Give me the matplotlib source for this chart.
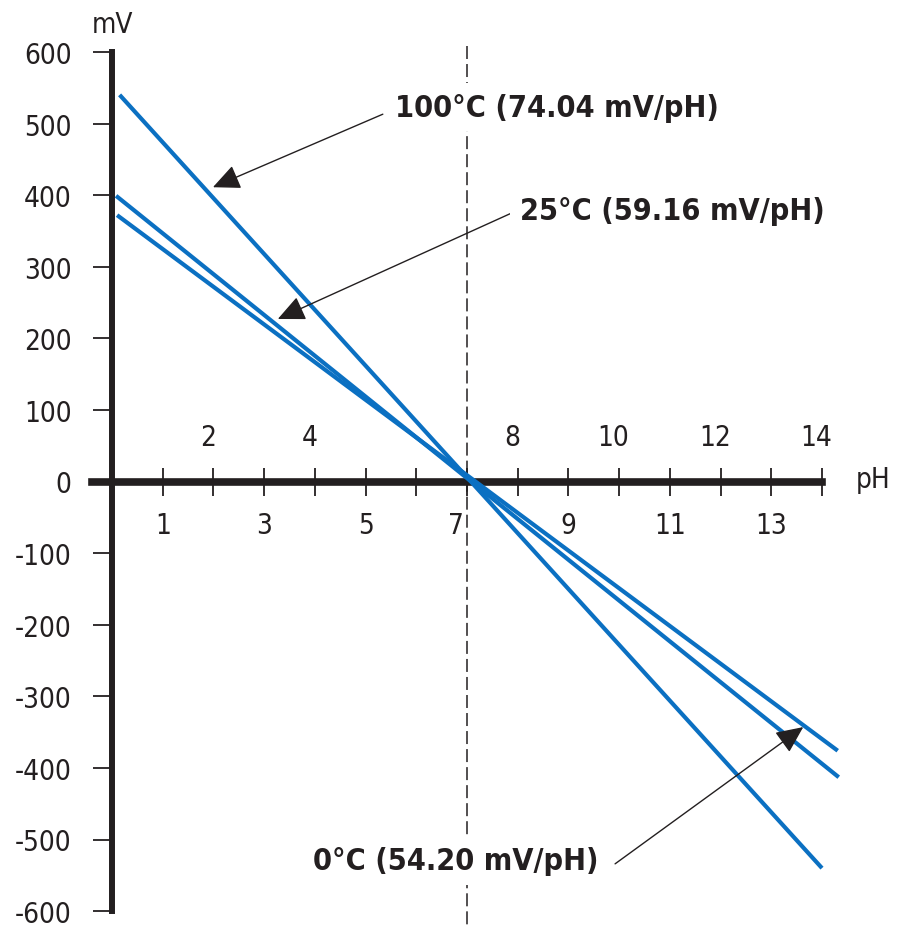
import numpy as np
import matplotlib
matplotlib.use('Agg')
import matplotlib.pyplot as plt

plt.rcParams['font.family'] = ['DejaVu Sans']
plt.rcParams['font.stretch'] = 'condensed'

# ---- data ----
temps = ['100°C (74.04 mV/pH)', '25°C (59.16 mV/pH)', '0°C (54.20 mV/pH)']
ph_start = [0.15, 0.08, 0.10]
ph_end = [14.00, 14.33, 14.31]
mv_start = [540, 399, 372]
mv_end = [-540, -413, -376]

# arrow tips (on the lines) and label anchors
arrow_tip_ph = [1.99, 3.27, 13.63]
arrow_tip_mv = [411, 227, -343]
arrow_from_ph = [5.34, 7.85, 9.92]
arrow_from_mv = [513, 374, -534]
label_ph = [5.58, 8.05, 3.96]
label_mv = [523, 378, -530]

y_ticks = [600, 500, 400, 300, 200, 100, 0, -100, -200, -300, -400, -500, -600]
x_ticks = list(range(1, 15))
x_labels_below = [1, 3, 5, 7, 9, 11, 13]
x_labels_above = [2, 4, 8, 10, 12, 14]

blue = '#0b70c2'
ink = '#231f20'

fig = plt.figure(figsize=(8.98, 9.28), dpi=100)
ax = fig.add_axes([0, 0, 1, 1])
# pixel mapping: pH 0 -> x=112, pH 14 -> x=822; 0 mV -> y=482.5, 0.716 px/mV
ax.set_xlim(-112 / 50.71, 14 + (898 - 822) / 50.71)
ax.set_ylim(-(928 - 482.5) / 0.716, 482.5 / 0.716)

for s in ['top', 'right']:
    ax.spines[s].set_visible(False)
ax.spines['left'].set_position(('data', 0))
ax.spines['bottom'].set_position(('data', 0))
ax.spines['left'].set_bounds(-600, 600)
ax.spines['bottom'].set_bounds(-0.4, 14)
ax.spines['left'].set_linewidth(4.3)
ax.spines['bottom'].set_linewidth(5.5)
ax.spines['left'].set_color(ink)
ax.spines['bottom'].set_color(ink)

ax.set_yticks(y_ticks)
ax.set_yticklabels([str(v) for v in y_ticks])
ax.tick_params(axis='y', direction='out', length=14, width=1.3, color=ink,
               pad=15, labelsize=20, labelcolor=ink)
ax.set_xticks(x_ticks)
ax.set_xticklabels([])
ax.tick_params(axis='x', direction='inout', length=20, width=1.3, color=ink)

# x tick labels: odd below, even above
for v in x_labels_below:
    dx = -8 if v == 7 else 0
    ax.annotate(str(v), (v, 0), xytext=(dx, -31), textcoords='offset points',
                ha='center', va='center', fontsize=20, color=ink)
for v in x_labels_above:
    ax.annotate(str(v), (v, 0), xytext=(-4, 32), textcoords='offset points',
                ha='center', va='center', fontsize=20, color=ink)

ax.text(0, 639, 'mV', ha='center', va='center', fontsize=20, color=ink)
ax.text(15.0, 3, 'pH', ha='center', va='center', fontsize=20, color=ink)

# dashed neutral line at pH 7
ax.plot([7, 7], [608, -700], color=ink, lw=1.1, dashes=(8.5, 3.3), zorder=1)

# electrode response lines
for i in range(len(temps)):
    ax.plot([ph_start[i], ph_end[i]], [mv_start[i], mv_end[i]],
            color=blue, lw=3.0, solid_capstyle='butt', zorder=3)

# labels and arrows
for i in range(len(temps)):
    ax.annotate('', xy=(arrow_tip_ph[i], arrow_tip_mv[i]),
                xytext=(arrow_from_ph[i], arrow_from_mv[i]),
                arrowprops=dict(arrowstyle='-|>,head_length=1.2,head_width=0.55',
                                color=ink, lw=1.0, mutation_scale=14,
                                shrinkA=0, shrinkB=0),
                zorder=4)
    ax.text(label_ph[i], label_mv[i], temps[i], ha='left', va='center',
            fontsize=22, fontweight='bold', color=ink, zorder=5,
            bbox=dict(facecolor='white', edgecolor='none', pad=7))

fig.savefig('out.png', dpi=100)
